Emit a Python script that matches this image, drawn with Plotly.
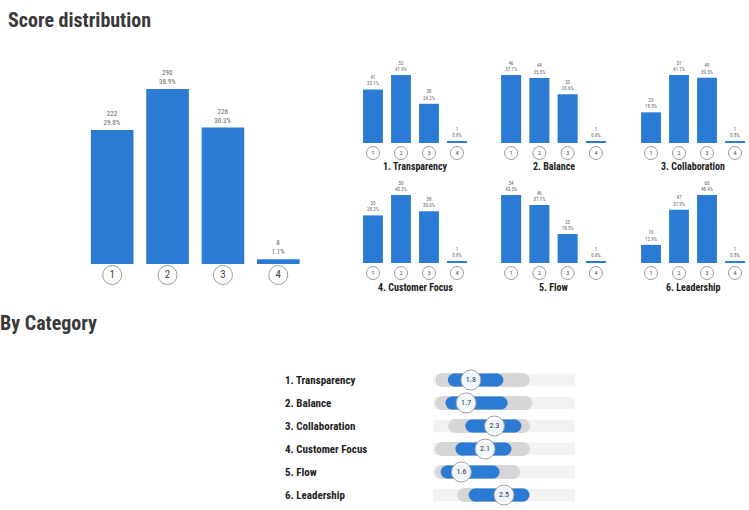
import plotly.graph_objects as go

W, H = 749, 510

def py(p):
    return 1 - p / H

def px(p):
    return p / W

# ---------------- data ----------------
score_levels = ["1", "2", "3", "4"]
overall_counts = [222, 290, 226, 8]

category_names = ["1. Transparency", "2. Balance", "3. Collaboration",
                  "4. Customer Focus", "5. Flow", "6. Leadership"]
transparency_counts = [41, 52, 30, 1]
balance_counts = [46, 44, 33, 1]
collaboration_counts = [23, 51, 49, 1]
customer_focus_counts = [35, 50, 38, 1]
flow_counts = [54, 46, 23, 1]
leadership_counts = [16, 47, 60, 1]

category_means = [1.8, 1.7, 2.3, 2.1, 1.6, 2.5]
outer_low = [1.2, 1.19, 1.47, 1.19, 1.19, 1.66]
outer_high = [2.9, 2.95, 2.9, 2.9, 2.69, 2.9]
inner_low = [1.45, 1.4, 1.82, 1.61, 1.3, 1.89]
inner_high = [2.35, 2.44, 2.73, 2.52, 2.27, 2.9]
scale_min, scale_max = 1, 4

# ---------------- style ----------------
BLUE = "#2b7bd4"
FONT = "Roboto Condensed, Liberation Sans Narrow, Roboto, sans-serif"

fig = go.Figure()
layout_axes = {}


def blank_axis(**kw):
    d = dict(showgrid=False, zeroline=False, showticklabels=False,
             showline=False, ticks="", fixedrange=True)
    d.update(kw)
    return d


def labels_for(counts):
    total = sum(counts)
    return [f"{c}<br>{100 * c / total:.1f}%" for c in counts]


def add_dist(counts, idx, x0, x1, base, top, bottom, bar_h, width,
             txt_size, circ_size, circ_font, circ_off):
    xa = "x" if idx == 1 else f"x{idx}"
    ya = "y" if idx == 1 else f"y{idx}"
    scale = bar_h / max(counts)
    lo = -(bottom - base) / scale
    hi = (base - top) / scale
    fig.add_trace(go.Bar(
        x=score_levels, y=counts, width=width, marker_color=BLUE,
        marker_line_width=0,
        text=labels_for(counts), textposition="outside",
        textfont=dict(size=txt_size, color="#666666", family=FONT),
        constraintext="none", cliponaxis=False,
        xaxis=xa, yaxis=ya, hoverinfo="skip"))
    fig.add_trace(go.Scatter(
        x=score_levels, y=[-circ_off / scale] * len(score_levels),
        mode="markers+text", text=score_levels,
        textposition="middle center",
        textfont=dict(size=circ_font, color="#444444", family=FONT),
        marker=dict(size=circ_size, color="white",
                    line=dict(color="#9a9a9a", width=1)),
        cliponaxis=False, xaxis=xa, yaxis=ya, hoverinfo="skip"))
    key = "" if idx == 1 else str(idx)
    layout_axes[f"xaxis{key}"] = blank_axis(
        domain=[px(x0), px(x1)], range=[-0.5, 3.5], anchor=ya,
        type="category")
    layout_axes[f"yaxis{key}"] = blank_axis(
        domain=[py(bottom), py(top)], range=[lo, hi], anchor=xa)


# main distribution
add_dist(overall_counts, 1, 84.5, 306, 264, 55, 292, 175, 0.77,
         7, 19, 11, 11)

# small multiples
small_counts = [transparency_counts, balance_counts, collaboration_counts,
                customer_focus_counts, flow_counts, leadership_counts]
col_x = [(359, 471), (497, 610), (637, 749)]
row_base = [143, 263]
annotations = []
for i, counts in enumerate(small_counts):
    r, c = divmod(i, 3)
    x0, x1 = col_x[c]
    base = row_base[r]
    add_dist(counts, i + 2, x0, x1, base, base - 90, base + 18, 68, 0.71,
             5, 13, 6, 10)
    annotations.append(dict(
        text=f"<b>{category_names[i]}</b>", x=px((x0 + x1) / 2),
        y=py(base + 24), xref="paper", yref="paper", showarrow=False,
        xanchor="center", yanchor="middle",
        font=dict(size=10, color="#222222", family=FONT)))

# ---------------- by category ----------------
rows = list(range(len(category_names)))
xa, ya = "x8", "y8"
fig.add_trace(go.Bar(
    y=rows, x=[scale_max - scale_min] * len(rows), base=scale_min,
    orientation="h", width=0.55, marker_color="#f2f2f2",
    marker_line_width=0, xaxis=xa, yaxis=ya, hoverinfo="skip"))
for i in rows:
    fig.add_trace(go.Scatter(
        x=[outer_low[i], outer_high[i]], y=[i, i], mode="lines+markers",
        line=dict(color="#d6d6d6", width=14),
        marker=dict(size=14, color="#d6d6d6"),
        xaxis=xa, yaxis=ya, hoverinfo="skip", cliponaxis=False))
    fig.add_trace(go.Scatter(
        x=[inner_low[i], inner_high[i]], y=[i, i], mode="lines+markers",
        line=dict(color=BLUE, width=13),
        marker=dict(size=13, color=BLUE),
        xaxis=xa, yaxis=ya, hoverinfo="skip", cliponaxis=False))
fig.add_trace(go.Scatter(
    x=category_means, y=rows, mode="markers+text",
    text=[f"{m:.1f}" for m in category_means],
    textposition="middle center",
    textfont=dict(size=8, color="#333333", family=FONT),
    marker=dict(size=20, color="rgba(255,255,255,0.92)",
                line=dict(color="#a0a0a0", width=1)),
    xaxis=xa, yaxis=ya, hoverinfo="skip", cliponaxis=False))
layout_axes["xaxis8"] = blank_axis(domain=[px(433), px(575)],
                                   range=[scale_min, scale_max], anchor=ya)
layout_axes["yaxis8"] = blank_axis(domain=[py(506.5), py(368.5)],
                                   range=[5.5, -0.5], anchor=xa)
for i in rows:
    annotations.append(dict(
        text=f"<b>{category_names[i]}</b>", x=px(283), y=i,
        xref="paper", yref="y8", showarrow=False, xanchor="left",
        yanchor="middle", font=dict(size=11, color="#222222", family=FONT)))

annotations.append(dict(
    text="<b>Score distribution</b>", x=px(6), y=py(20), xref="paper",
    yref="paper", showarrow=False, xanchor="left", yanchor="middle",
    font=dict(size=20, color="#3a3a3a", family=FONT)))
annotations.append(dict(
    text="<b>By Category</b>", x=px(-2), y=py(323), xref="paper",
    yref="paper", showarrow=False, xanchor="left", yanchor="middle",
    font=dict(size=20, color="#3a3a3a", family=FONT)))

fig.update_layout(
    width=W, height=H, margin=dict(l=0, r=0, t=0, b=0),
    paper_bgcolor="white", plot_bgcolor="white", showlegend=False,
    annotations=annotations, **layout_axes)

fig.write_html("out.html", config={"displayModeBar": False},
               post_script="document.body.style.margin='0px';")
